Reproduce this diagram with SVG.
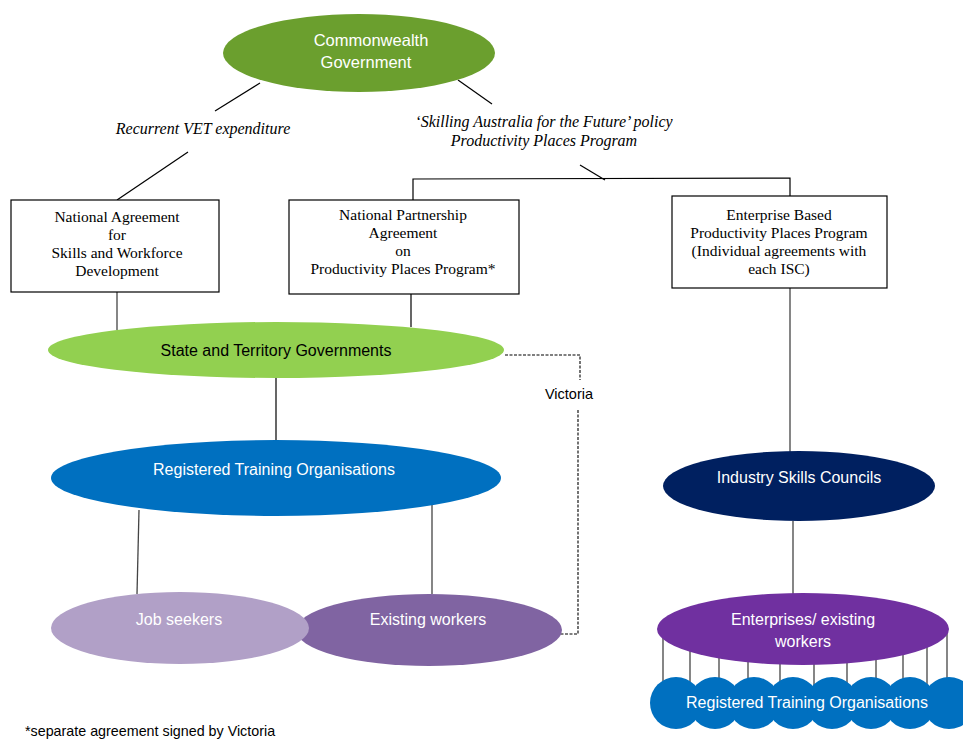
<svg xmlns="http://www.w3.org/2000/svg" width="963" height="740" viewBox="0 0 963 740">
<style>
.box{fill:#fff;stroke:#000;stroke-width:1.2}
.ser{font-family:"Liberation Serif","Times New Roman",serif;font-size:15.5px;fill:#000;text-anchor:middle}
.it{font-style:italic;font-size:16px}
.san{font-family:"Liberation Sans",Arial,sans-serif;font-size:16px;text-anchor:middle;fill:#fff}
.ln{stroke:#000;stroke-width:1.2;fill:none}
.gl{stroke:#444;stroke-width:1.3;fill:none}
.dash{stroke:#000;stroke-width:1.1;fill:none;stroke-dasharray:3,1.5}
</style>
<rect width="963" height="740" fill="#fff"/>
<g id="connectors">
<line class="ln" x1="260" y1="83" x2="215" y2="111"/>
<line class="ln" x1="188" y1="152" x2="117" y2="200"/>
<line class="ln" x1="458" y1="80" x2="492" y2="104"/>
<line class="ln" x1="580" y1="165" x2="605" y2="180"/>
<polyline class="ln" points="413,200 413,179 790,178 790,196"/>
<line class="gl" x1="117" y1="292" x2="117" y2="330"/>
<line class="ln" x1="411" y1="294" x2="411" y2="327"/>
<line class="ln" x1="276" y1="378" x2="276" y2="440"/>
<line class="gl" x1="139" y1="510" x2="137" y2="594"/>
<line class="gl" x1="432" y1="505" x2="432" y2="594"/>
<line class="gl" x1="790" y1="288" x2="790" y2="452"/>
<line class="gl" x1="793" y1="521" x2="793" y2="594"/>
<polyline class="dash" points="505,355 580,355 580,380"/>
<polyline class="dash" points="578,410 578,634 560,634"/>
<g class="gl">
<line x1="663" y1="630" x2="663" y2="685"/>
<line x1="690" y1="640" x2="690" y2="685"/>
<line x1="719" y1="648" x2="719" y2="685"/>
<line x1="748" y1="652" x2="748" y2="685"/>
<line x1="780" y1="655" x2="780" y2="685"/>
<line x1="814" y1="655" x2="814" y2="685"/>
<line x1="847" y1="652" x2="847" y2="685"/>
<line x1="876" y1="648" x2="876" y2="685"/>
<line x1="903" y1="642" x2="903" y2="685"/>
<line x1="927" y1="635" x2="927" y2="685"/>
<line x1="947" y1="625" x2="947" y2="685"/>
</g>
</g>
<g id="commonwealth">
<ellipse cx="359" cy="53" rx="136" ry="39" fill="#6b9f2e"/>
<text class="san" x="371" y="46" style="font-size:16.5px">Commonwealth</text>
<text class="san" x="366" y="68" style="font-size:16.5px">Government</text>
</g>
<g id="label-recurrent">
<text class="ser it" x="203" y="134">Recurrent VET expenditure</text>
</g>
<g id="label-skilling">
<text class="ser it" x="544" y="127">‘Skilling Australia for the Future’ policy</text>
<text class="ser it" x="544" y="146">Productivity Places Program</text>
</g>
<g id="national-agreement">
<rect class="box" x="11" y="200" width="208" height="92"/>
<text class="ser" x="117" y="222">National Agreement</text>
<text class="ser" x="117" y="240">for</text>
<text class="ser" x="117" y="258">Skills and Workforce</text>
<text class="ser" x="117" y="276">Development</text>
</g>
<g id="national-partnership">
<rect class="box" x="289" y="200" width="230" height="94"/>
<text class="ser" x="403" y="220">National Partnership</text>
<text class="ser" x="403" y="238">Agreement</text>
<text class="ser" x="403" y="256">on</text>
<text class="ser" x="403" y="274">Productivity Places Program*</text>
</g>
<g id="enterprise-based">
<rect class="box" x="672" y="196" width="215" height="92"/>
<text class="ser" x="779" y="220">Enterprise Based</text>
<text class="ser" x="779" y="238">Productivity Places Program</text>
<text class="ser" x="779" y="256">(Individual agreements with</text>
<text class="ser" x="779" y="274">each ISC)</text>
</g>
<g id="state-territory">
<ellipse cx="276" cy="350" rx="228" ry="28" fill="#92d050"/>
<text class="san" x="276" y="356" style="fill:#000">State and Territory Governments</text>
</g>
<g id="victoria-label">
<text x="569" y="399" font-family="Liberation Sans, Arial, sans-serif" font-size="14.5" text-anchor="middle" fill="#000">Victoria</text>
</g>
<g id="rto">
<ellipse cx="276" cy="478" rx="225" ry="38" fill="#0070c0"/>
<text class="san" x="274" y="475">Registered Training Organisations</text>
</g>
<g id="existing-workers">
<ellipse cx="429" cy="630" rx="133" ry="36" fill="#8064a2"/>
<text class="san" x="428" y="625">Existing workers</text>
</g>
<g id="job-seekers">
<ellipse cx="180" cy="628" rx="129" ry="36" fill="#b1a0c7"/>
<text class="san" x="179" y="625">Job seekers</text>
</g>
<g id="isc">
<ellipse cx="799" cy="486" rx="136" ry="35" fill="#002060"/>
<text class="san" x="799" y="483">Industry Skills Councils</text>
</g>
<g id="rto-circles">
<g fill="#0070c0">
<circle cx="676" cy="703" r="26"/>
<circle cx="715" cy="703" r="26"/>
<circle cx="754" cy="703" r="26"/>
<circle cx="793" cy="703" r="26"/>
<circle cx="832" cy="703" r="26"/>
<circle cx="871" cy="703" r="26"/>
<circle cx="910" cy="703" r="26"/>
<circle cx="949" cy="703" r="26"/>
</g>
<text class="san" x="807" y="708">Registered Training Organisations</text>
</g>
<g id="enterprises">
<ellipse cx="803" cy="629" rx="146" ry="36" fill="#7030a0"/>
<text class="san" x="803" y="625">Enterprises/ existing</text>
<text class="san" x="803" y="647">workers</text>
</g>
<g id="footnote">
<text x="25" y="736" font-family="Liberation Sans, Arial, sans-serif" font-size="14.3" fill="#000">*separate agreement signed by Victoria</text>
</g>
</svg>
